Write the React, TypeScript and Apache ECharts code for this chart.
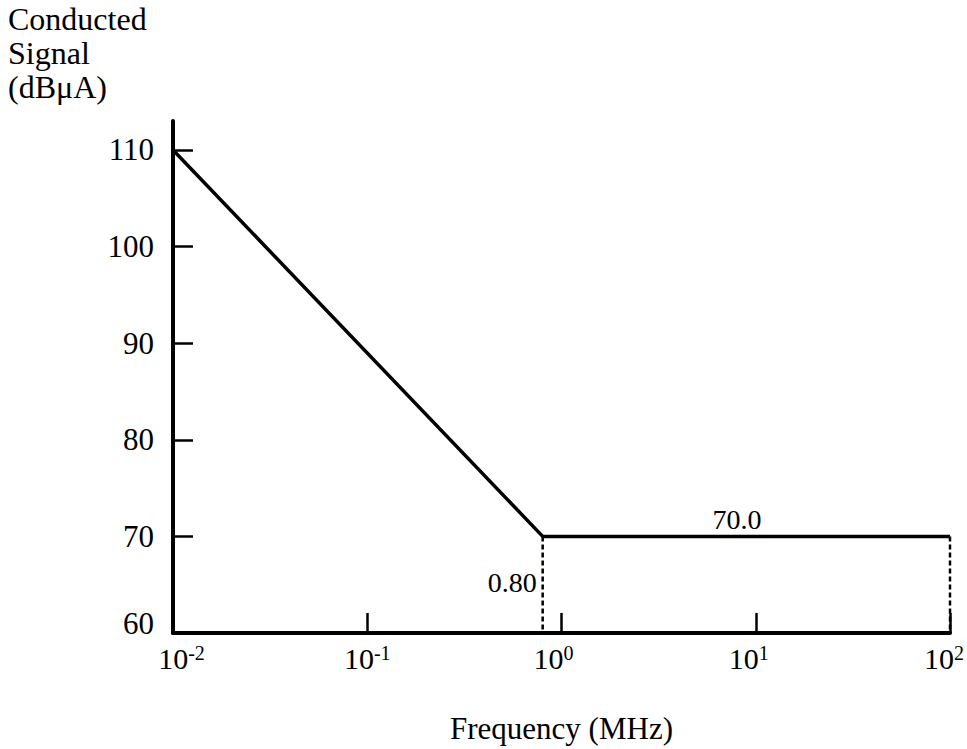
import React, { useEffect, useRef } from 'react';
import * as echarts from 'echarts';

// Limit curve (frequency in MHz, level in dBµA)
const freqMHz = [0.01, 0.8, 100];
const signalDb = [110, 70, 70];
// Dashed drop lines
const cornerFreq = [0.8, 0.8];
const cornerDb = [70, 60];
const endFreq = [100, 100];
const endDb = [70, 60];
// Axis ticks
const yTickValues = [70, 80, 90, 100, 110];
const yLabelValues = [60, 70, 80, 90, 100, 110];
// Texts
const xAxisName = 'Frequency (MHz)';
const yAxisName = ['Conducted', 'Signal', '(dBμA)'];
const annotationFreq = [0.8, 8];
const annotationDb = [65.2, 70];
const annotationText = ['0.80', '70.0'];
const annotationPos = ['left', 'top'];

const FONT = '"Liberation Serif", "Times New Roman", serif';

// label nudges (left padding, right padding) per decade exponent, purely visual
const labelPad: Record<string, [number, number]> = {
  '-2': [17, 0],
  '-1': [0, 0],
  '0': [0, 16],
  '1': [0, 14],
  '2': [0, 12],
};

export default function App() {
  const ref = useRef<HTMLDivElement>(null);
  useEffect(() => {
    if (!ref.current) return;
    const chart = echarts.init(ref.current, null, { renderer: 'svg' });
    const mainData = freqMHz.map((f, i) => [f, signalDb[i]]);
    const cornerData = cornerFreq.map((f, i) => [f, cornerDb[i]]);
    const endData = endFreq.map((f, i) => [f, endDb[i]]);
    const annData = annotationFreq.map((f, i) => ({
      value: [f, annotationDb[i]],
      label: {
        show: true,
        formatter: annotationText[i],
        position: annotationPos[i],
        distance: annotationPos[i] === 'left' ? 6 : 3,
        fontFamily: FONT,
        fontSize: 28,
        color: '#000',
        opacity: 1,
      },
    }));
    const rich: Record<string, any> = {};
    Object.keys(labelPad).forEach((k, idx) => {
      const [pl, pr] = labelPad[k];
      rich['b' + idx] = { fontSize: 30, fontFamily: FONT, color: '#000', padding: [0, 0, 0, pl] };
      rich['s' + idx] = {
        fontSize: 20,
        fontFamily: FONT,
        color: '#000',
        verticalAlign: 'top',
        padding: [0, pr, 0, 0],
      };
    });
    const keys = Object.keys(labelPad);
    chart.setOption({
      animation: false,
      backgroundColor: '#fff',
      textStyle: { fontFamily: FONT, color: '#000' },
      grid: {
        left: 173,
        right: 17,
        top: 121,
        bottom: 116,
        containLabel: false,
        outerBoundsMode: 'none',
      },
      xAxis: {
        type: 'log',
        logBase: 10,
        min: 0.01,
        max: 100,
        name: xAxisName,
        nameLocation: 'middle',
        nameGap: 80,
        nameTextStyle: { fontFamily: FONT, fontSize: 31, color: '#000' },
        axisLine: { show: true, lineStyle: { color: '#000', width: 4 } },
        axisTick: { show: true, inside: true, length: 20, lineStyle: { color: '#000', width: 2.5 } },
        minorTick: { show: false },
        splitLine: { show: false },
        axisLabel: {
          margin: 10,
          color: '#000',
          fontFamily: FONT,
          formatter: (v: number) => {
            const e = String(Math.round(Math.log10(v)));
            const idx = Math.max(0, keys.indexOf(e));
            return `{b${idx}|10}{s${idx}|${e}}`;
          },
          rich,
        },
      },
      yAxis: {
        type: 'value',
        min: 60,
        max: 113,
        axisLine: { show: true, lineStyle: { color: '#000', width: 4 } },
        axisTick: {
          show: true,
          inside: true,
          length: 20,
          customValues: yTickValues,
          lineStyle: { color: '#000', width: 2.5 },
        },
        splitLine: { show: false },
        axisLabel: {
          customValues: yLabelValues,
          margin: 19,
          color: '#000',
          fontFamily: FONT,
          fontSize: 31,
          formatter: (v: number) => (v === 60 ? `{u|${v}}` : `${v}`),
          rich: {
            u: { fontSize: 31, fontFamily: FONT, color: '#000', padding: [0, 0, 20, 0] },
          },
        },
      },
      series: [
        {
          type: 'line',
          data: mainData,
          symbol: 'none',
          lineStyle: { color: '#000', width: 3.5 },
          z: 5,
        },
        {
          type: 'line',
          data: cornerData,
          symbol: 'none',
          lineStyle: { color: '#000', width: 2.5, type: [5, 3] },
        },
        {
          type: 'line',
          data: endData,
          symbol: 'none',
          lineStyle: { color: '#000', width: 2.5, type: [5, 3] },
        },
        {
          type: 'scatter',
          data: annData,
          symbolSize: 0,
          itemStyle: { color: 'transparent' },
        },
      ],
      graphic: [
        {
          type: 'text',
          left: 8,
          top: 2,
          style: {
            text: yAxisName.join('\n'),
            fontFamily: FONT,
            fontSize: 32,
            lineHeight: 34,
            fill: '#000',
          },
        },
      ],
    });
    return () => chart.dispose();
  }, []);
  return (
    <div
      ref={ref}
      style={{ position: 'absolute', left: 0, top: 0, width: 967, height: 749, background: '#fff' }}
    />
  );
}
